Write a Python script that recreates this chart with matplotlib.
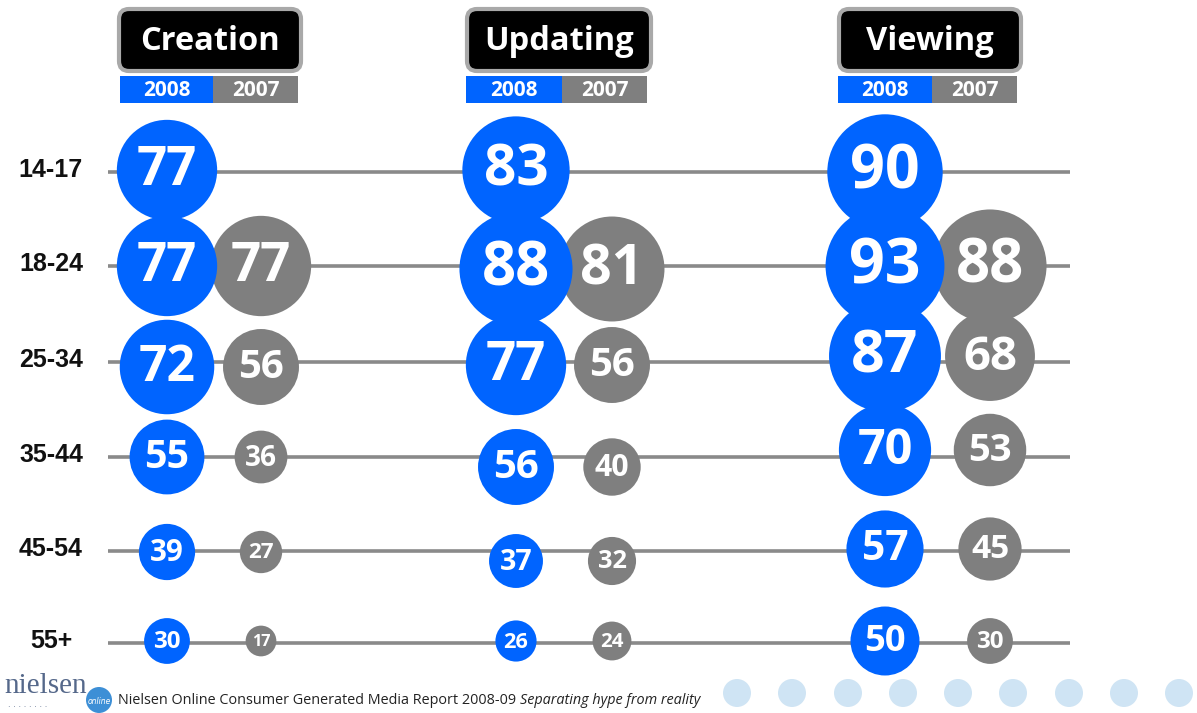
import matplotlib
matplotlib.use("Agg")
import matplotlib.pyplot as plt
from matplotlib.patches import FancyBboxPatch, Rectangle

# ---- data ----
groups = ["Creation", "Updating", "Viewing"]
years = ["2008", "2007"]
ages = ["14-17", "18-24", "25-34", "35-44", "45-54", "55+"]
creation_2008 = [77, 77, 72, 55, 39, 30]
creation_2007 = [None, 77, 56, 36, 27, 17]
updating_2008 = [83, 88, 77, 56, 37, 26]
updating_2007 = [None, 81, 56, 40, 32, 24]
viewing_2008 = [90, 93, 87, 70, 57, 50]
viewing_2007 = [None, 88, 68, 53, 45, 30]
footer_text = "Nielsen Online Consumer Generated Media Report 2008-09 "
footer_italic = "Separating hype from reality"

series = [(creation_2008, creation_2007), (updating_2008, updating_2007), (viewing_2008, viewing_2007)]

BLUE = "#0064ff"
GRAY = "#7f7f7f"
LINE = "#8a8a8a"

W, H = 1197, 713
fig = plt.figure(figsize=(W / 100, H / 100), dpi=100)
ax = fig.add_axes([0, 0, 1, 1])
ax.set_xlim(0, W)
ax.set_ylim(H, 0)
ax.axis("off")

# layout
row_y = [172, 266, 362, 457, 551, 643]
group_x = [(167, 261), (516, 612), (885, 990)]
header_x = [(118, 302), (466, 652), (838, 1022)]
yearbar_split = [(120, 213, 298), (466, 562, 647), (838, 932, 1017)]
# small vertical nudges of bubbles (layout only), per group, per row
nudge = [
    [-2, 0, 5, 0, 1, -2],
    [-2, 3, 3, 10, 10, -2],
    [0, 0, -6, -7, -2, -2],
]

def radius_px(v):
    return 5.5 + 0.58 * v

def size_pts2(v):
    d_pt = 2 * radius_px(v) * 72 / 100
    return d_pt ** 2

# horizontal lines
for i, y in enumerate(row_y):
    ax.plot([108, 1070], [y, y], color=LINE, lw=2.6, zorder=1, solid_capstyle="butt")

# row labels
for lab, y in zip(ages, row_y):
    ax.text(51, y - 2, lab, ha="center", va="center", fontsize=18,
            fontweight="bold", family="Liberation Sans", color="#111111")

# bubbles
for gi, (s08, s07) in enumerate(series):
    x08, x07 = group_x[gi]
    for vals, x, col, z in ((s07, x07, GRAY, 2), (s08, x08, BLUE, 3)):
        for i, v in enumerate(vals):
            if v is None:
                continue
            y = row_y[i] + nudge[gi][i]
            ax.scatter([x], [y], s=size_pts2(v), color=col, edgecolors="none", zorder=z)
            ax.text(x, y + 1, str(v), ha="center", va="center", color="white",
                    fontsize=0.76 * radius_px(v), fontweight="bold", family="Open Sans",
                    zorder=z + 0.5)

# headers
for gi, name in enumerate(groups):
    x0, x1 = header_x[gi]
    box = FancyBboxPatch((x0 + 1, 9), (x1 - x0) - 2, 62,
                         boxstyle="round,pad=0,rounding_size=10",
                         facecolor="black", edgecolor="#a9a9a9", lw=3, zorder=4)
    ax.add_patch(box)
    ax.text((x0 + x1) / 2, 41, name, ha="center", va="center", color="white",
            fontsize=23.5, fontweight="bold", family="Open Sans", zorder=5)
    a, b, c = yearbar_split[gi]
    ax.add_patch(Rectangle((a, 76), b - a, 27, facecolor=BLUE, edgecolor="none", zorder=4))
    ax.add_patch(Rectangle((b, 76), c - b, 27, facecolor=GRAY, edgecolor="none", zorder=4))
    ax.text((a + b) / 2, 90, years[0], ha="center", va="center", color="white",
            fontsize=15, fontweight="bold", family="Open Sans", zorder=5)
    ax.text((b + c) / 2, 90, years[1], ha="center", va="center", color="white",
            fontsize=15, fontweight="bold", family="Open Sans", zorder=5)

# footer logo
ax.text(4, 686, "nielsen", ha="left", va="center", fontsize=21, family="Liberation Serif",
        color="#55688a")
ax.text(8, 707, "· · · · · · · ·", ha="left", va="center", fontsize=6, color="#55688a")
ax.scatter([99], [700], s=(26 * 0.72) ** 2, color="#3d8fd6", edgecolors="none", zorder=2)
ax.text(99, 702, "online", ha="center", va="center", fontsize=5.5, color="white",
        style="italic", zorder=3)
t = ax.text(118, 701, footer_text, ha="left", va="center", fontsize=10.4,
            family="Open Sans", color="#222222")
fig.canvas.draw()
bb = t.get_window_extent()
x_end = ax.transData.inverted().transform((bb.x1, bb.y0))[0]
ax.text(x_end, 701, footer_italic, ha="left", va="center", fontsize=10.4,
        family="Open Sans", style="italic", color="#222222")

# decorative dots
dot_x = [737, 792, 848, 903, 958, 1013, 1069, 1124, 1179]
ax.scatter(dot_x, [693] * len(dot_x), s=(28 * 0.72) ** 2, color="#cfe4f4",
           edgecolors="none", zorder=1)

fig.savefig("out.png", dpi=100)
